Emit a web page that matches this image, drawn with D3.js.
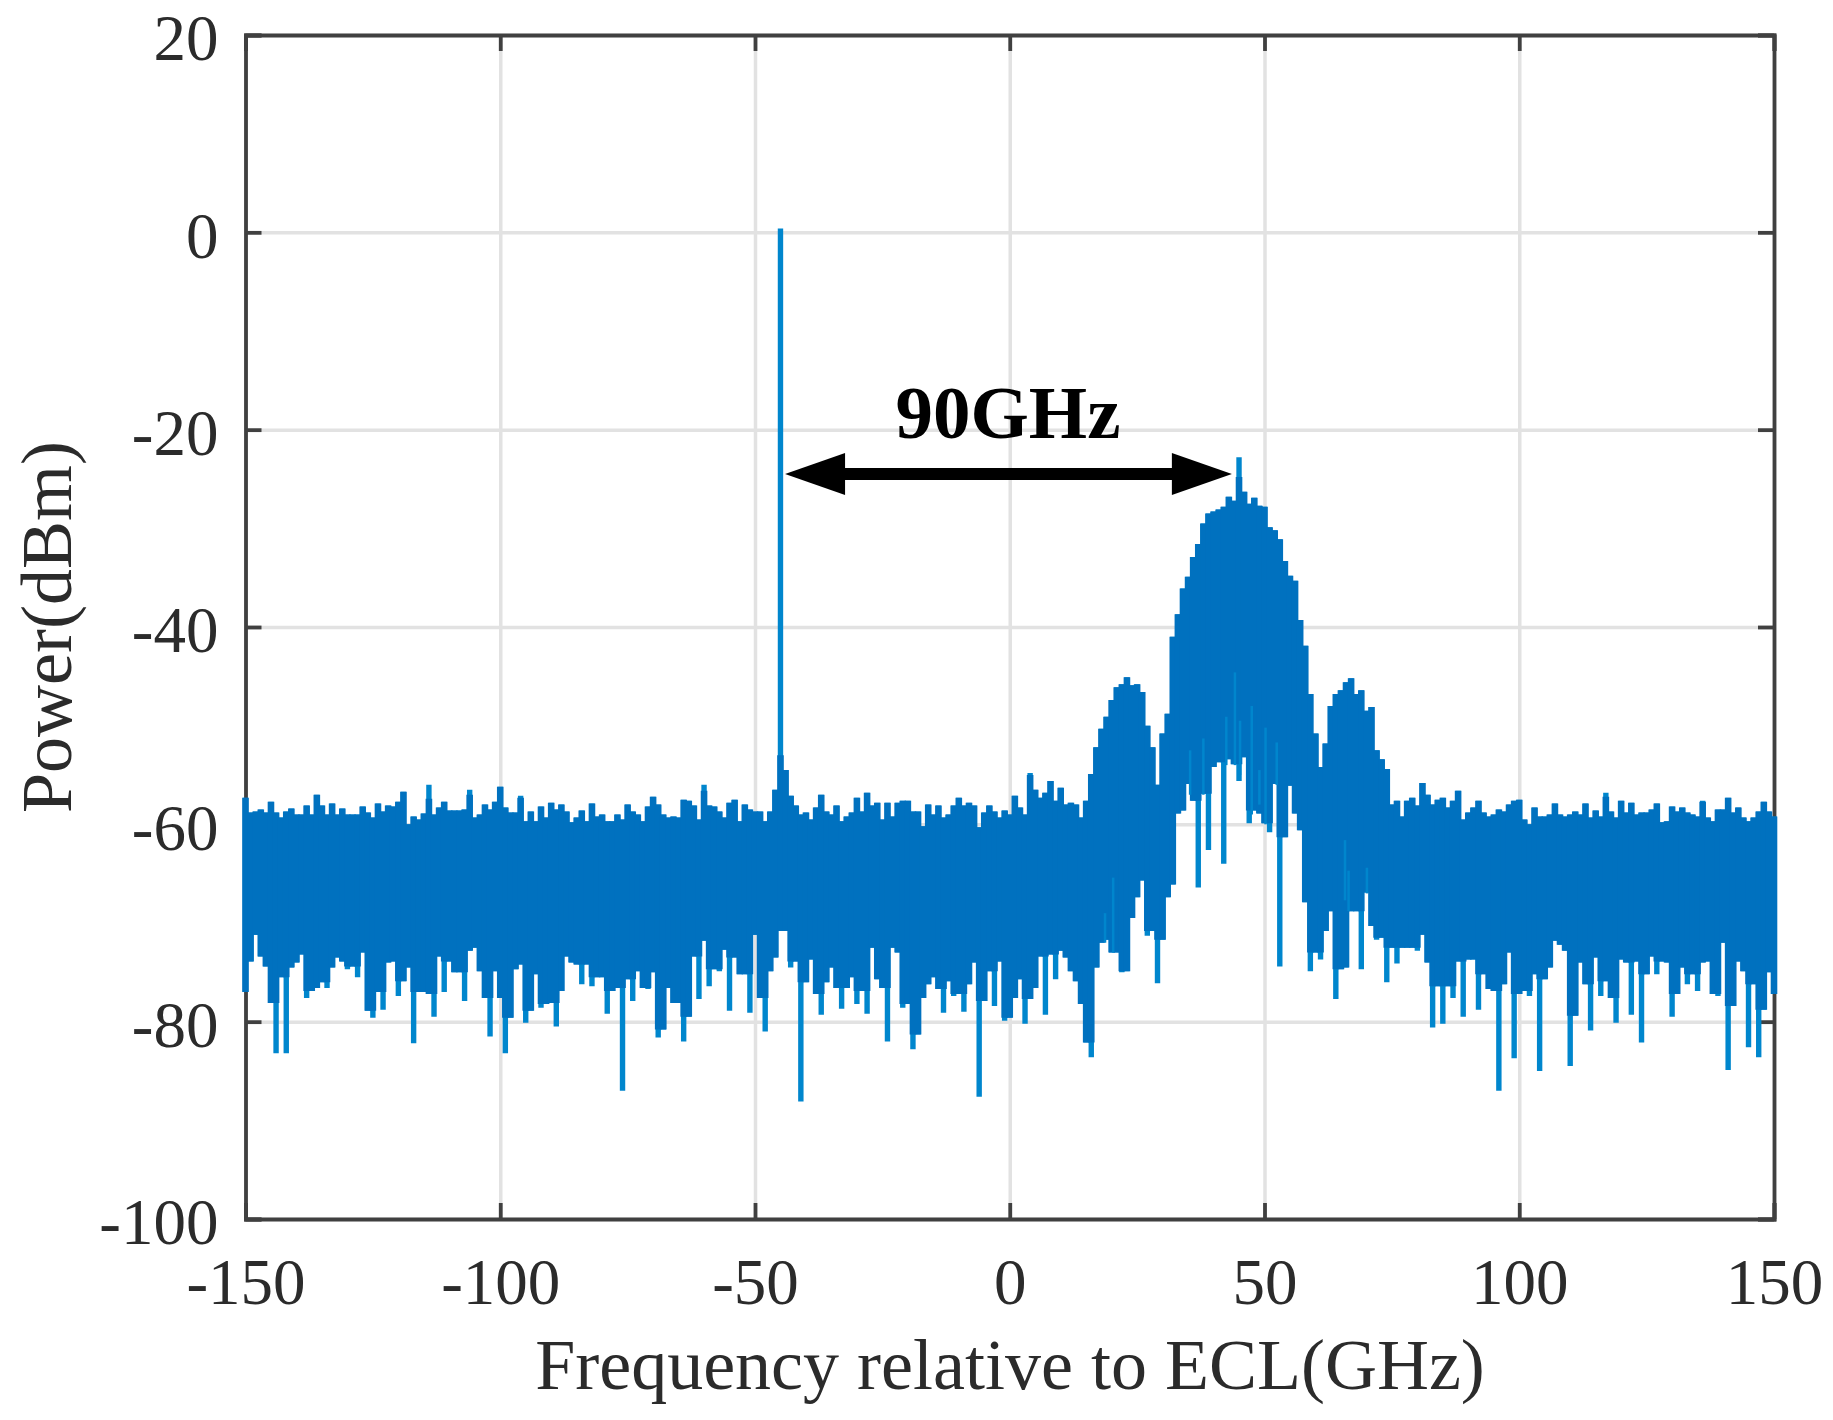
<!doctype html>
<html>

<head>
    <meta charset="UTF-8">
    <title>Spectrum</title>
    <script src="https://d3js.org/d3.v7.min.js"></script>
    <style>
        body {
            margin: 0;
            background: #fff;
        }

        text {
            font-family: "Liberation Serif", serif;
        }
    </style>
</head>

<body>
    <svg width="1833" height="1420"></svg>

    <script>
        // values, one per GHz, in dBm
        var xTicks = [-150, -100, -50, 0, 50, 100, 150];
        var yTicks = [-100, -80, -60, -40, -20, 0, 20];

        var topA = [-57.3,-58.8,-58.7,-58.5,-58.8,-57.7,-58.8,-59.3,-58.7,-58.4,-59,-59,-58.1,-59,-57,-58.1,-59,-57.9,-59,-58.4,-59,-59,-59,-58.2,-58.8,-59.3,-57.9,-58.7,-58.1,-58.2,-57.7,-56.7,-60,-59.2,-59.5,-58.9,-56,-59,-58.3,-57.7,-58.6,-58.6,-58.6];
        var topB = [-58.5,-56.5,-59.3,-59,-58,-58.5,-57.7,-56.2,-58.3,-58.8,-58.8,-57.1,-59.7,-58.7,-59.7,-58.2,-59.3,-57.8,-58.5,-58,-58.7,-59.8,-59.3,-58.6,-59.7,-57.9,-59.2,-59,-59.7,-59.7,-59,-59.5,-58,-58.7,-59,-59.7,-58.2,-57.2,-58,-59,-59.3,-59.2,-59.3,-57.5];
        var topC = [-57.6,-58.1,-59.5,-56,-58.1,-58.2,-58.7,-59.3,-57.8,-57.5,-59.7,-58,-58.5,-58.7,-58.7,-59.7,-58.7,-56.5,0.4,-54.5,-57.1,-58.1,-59,-58.8,-59.5,-58.3,-57,-58.7,-59,-58.1,-59.7,-59.2,-58.8,-57.3,-58.7,-56.8,-58.1,-57.8,-59.5,-57.8,-59.2,-57.8,-57.6];
        var topD = [-57.6,-58.7,-58.7,-60.2,-58,-59,-58.1,-59.3,-59,-58.1,-57.3,-58.1,-57.8,-58.1,-60.3,-58.8,-58.1,-58.7,-59.3,-58.6,-59,-57.1,-58.3,-59,-54.8,-56.5,-57.3,-56.8,-55.6,-57.6,-56.3,-58,-57.8,-58,-59.3,-57.6];
        var topE = [-54.9,-52.2,-50.3,-49.1,-47.4,-46.1,-45.8,-45.1,-45.9,-45.8,-46.6,-50,-52.2,-56,-50.8,-48.8,-41,-38.7,-36.1,-34.9,-32.9,-31.6,-29.5,-28.5,-28.3,-28.1,-27.8,-26.8,-27.2,-22.8,-26.3,-27.5,-26.9,-27.7,-27.8,-29.9,-30.2,-31.1,-33.3,-34.8,-35.3,-39.3,-41.9,-46.8,-50.8,-54.2,-51.8,-48,-46.8,-46.4,-45.6,-45.2,-46.8,-46.4,-48.5,-48.1,-52.5,-53.4,-54.4];
        var topF = [-58,-57.6,-59.2,-57.6,-57.3,-58.1,-55.8,-57,-58,-57.5,-57.3,-58.3,-57.6,-56.6,-59.5,-58.8,-58.3,-57.6,-58.8,-59.2,-59,-58.5,-58.7,-58,-57.6,-57.5,-59.5,-60,-58.3,-59.2,-59.2,-59,-57.9,-59,-59.2];
        var topG = [-59,-58.7,-59,-57.9,-59.3,-58.6,-59.2,-56.8,-58.7,-59.3,-57.6,-58.8,-57.8,-59,-58.8,-58.8,-58.5,-57.9,-59.8,-59.7,-58.2,-58.7,-58.3,-58.8,-59,-59.2,-57.6,-59.3,-59.7,-58.5,-58.5,-57.3,-58.8,-58.3,-59.3,-59.7,-59.3,-58.7,-57.7,-58.7,-59.2];

        var lowA = [-77,-73.9,-71.2,-73.4,-74.4,-78.1,-83.2,-75.5,-83.2,-74.5,-74,-73.2,-77.6,-76.9,-76.6,-76,-76.6,-74.5,-73.5,-73.9,-74.7,-74.4,-75.5,-73,-78.9,-79.6,-77,-78.8,-74,-73.9,-77.4,-75.9,-74.5,-82.2,-77,-77,-77.2,-79.5,-73.4,-77,-73.9,-75,-75];
        var lowB = [-77.9,-72.8,-72.5,-74.9,-77.6,-81.5,-74.9,-77.6,-83.2,-79.6,-74.7,-74.2,-80.1,-78.9,-75.2,-78.6,-78.2,-78.1,-80.5,-76.9,-73.4,-74,-74.2,-76.2,-74.2,-76.4,-75.5,-75.5,-79.2,-76.9,-76.6,-87,-75.7,-77.9,-74.9,-76.6,-76.7,-75,-81.6,-80.8,-76.6,-78.1,-78.1,-82];
        var lowC = [-79.5,-73.4,-77.7,-71.8,-76.4,-74.7,-74.9,-72.7,-78.9,-73.5,-75.2,-75.2,-79.1,-71.2,-77.6,-81,-74.9,-73.5,-70.8,-70.8,-74.5,-73.9,-88.1,-76,-73.7,-77.2,-79.3,-76,-74.5,-76.6,-78.7,-76.6,-75.5,-78.2,-76.9,-79.2,-72.5,-75.7,-76.6,-82,-72.5,-73,-78.6];
        var lowD = [-78.2,-82.8,-81.3,-77.6,-76.2,-75.5,-76.7,-79.1,-75.9,-77.4,-77.2,-79,-76.2,-74,-87.6,-77.9,-74.9,-78.4,-73.9,-79.9,-79.6,-77.6,-75.7,-80.2,-77.7,-76.6,-73.4,-79.3,-73.2,-75.7,-72.8,-73.5,-74.9,-75.9,-78.2,-82.1,-83.6,-74.5,-72,-71.7,-73,-73,-75];
        var lowE = [-74.9,-69.5,-67.4,-65.7,-71.3,-70.8,-76.1,-71.7,-67.4,-66.1,-58.9,-58.6,-55.9,-57.6,-66.4,-56.9,-62.6,-54.2,-53.7,-64,-53.4,-53.9,-55.6,-53.2,-59.9,-58.6,-58.9,-59.9,-60.8,-55.9,-74.4,-61.3,-56.1,-58.9,-60.6,-67.9,-74.9,-73,-73.7,-70.8,-68.8,-77.7,-74.7];
        var lowF = [-74.5,-68.8,-68.8,-74.7,-66.9,-70.3,-71.7,-71.5,-76,-72.5,-74.1,-72.5,-72.5,-72.5,-72.8,-71.2,-74,-80.6,-76.4,-80.2,-76.4,-77.6,-73.9,-79.5,-73.7,-73.7,-78.8,-75.2,-76.7,-76.9,-87,-76.2,-73,-83.7,-77.2,-76.9,-77.4,-75.2,-85,-75.7,-74.5,-71.8,-72.2,-72.8];
        var lowG = [-84.5,-79.4,-74,-76.2,-80.9,-73.5,-77.4,-75.9,-77.6,-80.1,-73.7,-74,-79.3,-73.9,-82.1,-75.2,-73.4,-75.2,-73.9,-74,-79.5,-77.2,-74.5,-76.2,-75.2,-76.9,-74,-73.9,-77.2,-77.4,-72,-84.9,-78.4,-73.9,-74.9,-82.6,-76.2,-83.6,-78.8,-75,-77.2];

        // lighter streaks seen inside the filled humps
        var streakFreq = [18.7, 20.3, 35.4, 38, 42.5, 44.2, 45.2, 47.5, 49, 50.2, 52.4, 65.8, 66.5, 70.1];
        var streakTop = [-69, -65.4, -52.5, -51.3, -49.1, -44.6, -49.5, -48, -54.5, -50.2, -51.7, -61.6, -64.7, -64.4];
        var streakLow = [-72, -73, -57, -57, -54, -54, -55, -59, -58, -60, -56, -67.7, -68.8, -67];

        var arrowFreq = [-44.1, 43.6];
        var arrowPower = -24.5;

        var topPower = topA.concat(topB, topC, topD, topE, topF, topG);
        var lowPower = lowA.concat(lowB, lowC, lowD, lowE, lowF, lowG);
        var freqs = d3.range(-150, 151);

        var spectrum = freqs.map(function(f, i) {
            var hi = topPower[i], lo = lowPower[i];
            var hiL = i > 0 ? topPower[i - 1] : hi, hiR = i < 300 ? topPower[i + 1] : hi;
            var loL = i > 0 ? lowPower[i - 1] : lo, loR = i < 300 ? lowPower[i + 1] : lo;
            return {
                f: f,
                hi: hi,
                lo: lo,
                // the darker core stops where a lone spike sticks out past both neighbours
                coreHi: Math.min(hi, Math.max(hiL, hiR) + 1.5),
                coreLo: Math.max(lo, Math.min(loL, loR))
            };
        });

        var left = 245.5, right = 1774, top_ = 35, bottom = 1219;

        var x = d3.scaleLinear().domain([-150, 150]).range([left, right]);
        var y = d3.scaleLinear().domain([-100, 20]).range([bottom, top_]);

        var svg = d3.select("svg");

        // grid
        svg.append("g").attr("class", "grid")
            .attr("transform", "translate(0," + bottom + ")")
            .call(d3.axisBottom(x).tickValues(xTicks).tickSize(-(bottom - top_)).tickFormat(""));
        svg.append("g").attr("class", "grid")
            .attr("transform", "translate(" + left + ",0)")
            .call(d3.axisLeft(y).tickValues(yTicks).tickSize(-(right - left)).tickFormat(""));
        svg.selectAll(".grid .domain").remove();
        svg.selectAll(".grid line").attr("stroke", "#e2e2e2").attr("stroke-width", 3.5);

        // box with inward ticks on all four sides
        var xAxis = d3.axisBottom(x).tickValues(xTicks).tickSize(-16).tickPadding(39)
            .tickFormat(function(d) { return String(d); });
        var yAxis = d3.axisLeft(y).tickValues(yTicks).tickSize(-16).tickPadding(27)
            .tickFormat(function(d) { return String(d); });

        svg.append("g").attr("class", "axis")
            .attr("transform", "translate(0," + bottom + ")").call(xAxis);
        svg.append("g").attr("class", "axis yaxis")
            .attr("transform", "translate(" + left + ",0)").call(yAxis);
        svg.append("g").attr("class", "axis")
            .attr("transform", "translate(0," + top_ + ")")
            .call(d3.axisTop(x).tickValues(xTicks).tickSize(-16).tickFormat(""));
        svg.append("g").attr("class", "axis")
            .attr("transform", "translate(" + right + ",0)")
            .call(d3.axisRight(y).tickValues(yTicks).tickSize(-16).tickFormat(""));

        svg.selectAll(".axis .domain").attr("stroke", "#404040").attr("stroke-width", 3.8);
        svg.selectAll(".axis line").attr("stroke", "#404040").attr("stroke-width", 3.8);
        svg.selectAll(".axis text")
            .attr("font-size", 65)
            .attr("font-family", "Liberation Serif")
            .attr("fill", "#2b2b2b");
        svg.selectAll(".yaxis text").attr("y", 4);

        // spectrum: light spike tips underneath, dark core on top
        svg.append("g").selectAll("line").data(spectrum).enter().append("line")
            .attr("x1", function(d) { return x(d.f); })
            .attr("x2", function(d) { return x(d.f); })
            .attr("y1", function(d) { return y(d.hi); })
            .attr("y2", function(d) { return y(d.lo); })
            .attr("stroke", "#0086cd")
            .attr("stroke-width", 5.4);

        svg.append("g").selectAll("line").data(spectrum).enter().append("line")
            .attr("x1", function(d) { return x(d.f); })
            .attr("x2", function(d) { return x(d.f); })
            .attr("y1", function(d) { return y(d.coreHi); })
            .attr("y2", function(d) { return y(d.coreLo); })
            .attr("stroke", "#0071bf")
            .attr("stroke-width", 6.6);

        svg.append("g").selectAll("line").data(streakFreq).enter().append("line")
            .attr("x1", function(d) { return x(d); })
            .attr("x2", function(d) { return x(d); })
            .attr("y1", function(d, i) { return y(streakTop[i]); })
            .attr("y2", function(d, i) { return y(streakLow[i]); })
            .attr("stroke", "#0086cd")
            .attr("stroke-width", 2.5);

        // arrow between carrier and signal
        var ay = y(arrowPower), ax0 = x(arrowFreq[0]), ax1 = x(arrowFreq[1]);
        svg.append("line")
            .attr("x1", ax0 + 50).attr("x2", ax1 - 50)
            .attr("y1", ay).attr("y2", ay)
            .attr("stroke", "#000").attr("stroke-width", 12);
        svg.append("path")
            .attr("d", d3.line()([[ax0, ay], [ax0 + 60, ay - 21], [ax0 + 60, ay + 21]]) + "Z")
            .attr("fill", "#000");
        svg.append("path")
            .attr("d", d3.line()([[ax1, ay], [ax1 - 60, ay - 21], [ax1 - 60, ay + 21]]) + "Z")
            .attr("fill", "#000");

        svg.append("text")
            .attr("x", 1008).attr("y", 438)
            .attr("text-anchor", "middle")
            .attr("font-size", 75).attr("font-weight", "bold")
            .attr("fill", "#000")
            .text("90GHz");

        svg.append("text")
            .attr("x", 1010).attr("y", 1389)
            .attr("text-anchor", "middle")
            .attr("font-size", 72).attr("fill", "#2b2b2b")
            .text("Frequency relative to ECL(GHz)");

        svg.append("text")
            .attr("transform", "translate(71,627) rotate(-90)")
            .attr("text-anchor", "middle")
            .attr("font-size", 72).attr("fill", "#2b2b2b")
            .text("Power(dBm)");
    </script>
</body>

</html>
